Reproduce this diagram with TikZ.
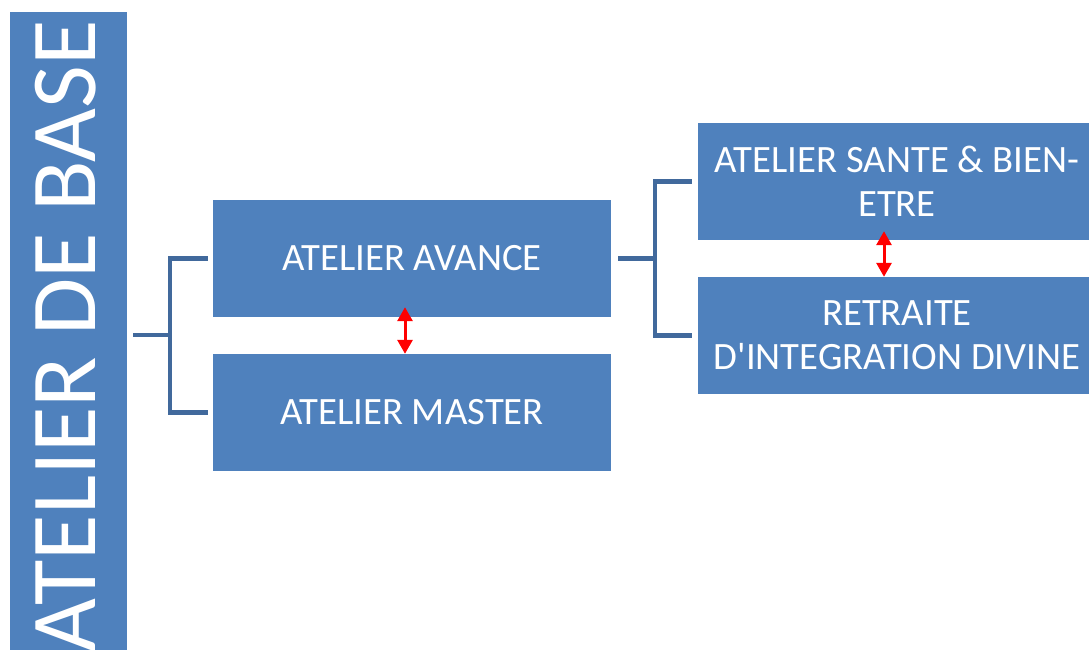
\documentclass[tikz,border=0pt]{standalone}
\usepackage{fontspec}
\setmainfont{Carlito}[Ligatures=TeXOff]
\usetikzlibrary{arrows.meta}
\definecolor{boxblue}{HTML}{4F81BD}
\definecolor{linkblue}{HTML}{41699C}
\tikzset{
  boxnode/.style={fill=boxblue, draw=none, minimum width=398pt, minimum height=117pt, inner sep=0pt,
    text=white, align=center, font=\fontsize{38.7}{44}\selectfont},
  bracket/.style={draw=linkblue, line width=4.5pt},
  swap/.style={draw=red, line width=3pt, {Triangle[width=15pt,length=14pt]}-{Triangle[width=15pt,length=14pt]}}
}
\begin{document}
\begin{tikzpicture}[x=1pt,y=-1pt]
\useasboundingbox (0,0) rectangle (1089,650);
\clip (0,0) rectangle (1089,650);
\node[fill=boxblue, minimum width=117pt, minimum height=646pt, inner sep=0pt] (base) at (68.5,335) {};
\node[rotate=90, anchor=base east, text=white, inner sep=0pt, font=\fontsize{93}{100}\selectfont] (basetext) at (95,20) {ATELIER DE BASE};
\node[boxnode] (avance) at (412,258.5) {ATELIER AVANCE};
\node[boxnode] (master) at (412,412.5) {ATELIER MASTER};
\node[boxnode] (sante) at (897,181.5) {ATELIER SANTE \& BIEN-\\ETRE};
\node[boxnode] (retraite) at (897,335.5) {RETRAITE\\D'INTEGRATION DIVINE};
\draw[bracket] ([xshift=6pt]base.east) -- ++(37,0) coordinate (j1);
\draw[bracket] ([xshift=-5pt]avance.west) -| (j1) |- ([xshift=-5pt]master.west);
\draw[bracket] ([xshift=7pt]avance.east) -- ++(37,0) coordinate (j2);
\draw[bracket] ([xshift=-6pt]sante.west) -| (j2) |- ([xshift=-6pt]retraite.west);
\draw[swap] ([xshift=-7pt,yshift=10pt]avance.south) -- ([xshift=-7pt]master.north);
\draw[swap] ([xshift=-13pt,yshift=9pt]sante.south) -- ([xshift=-13pt]retraite.north);
\end{tikzpicture}
\end{document}
